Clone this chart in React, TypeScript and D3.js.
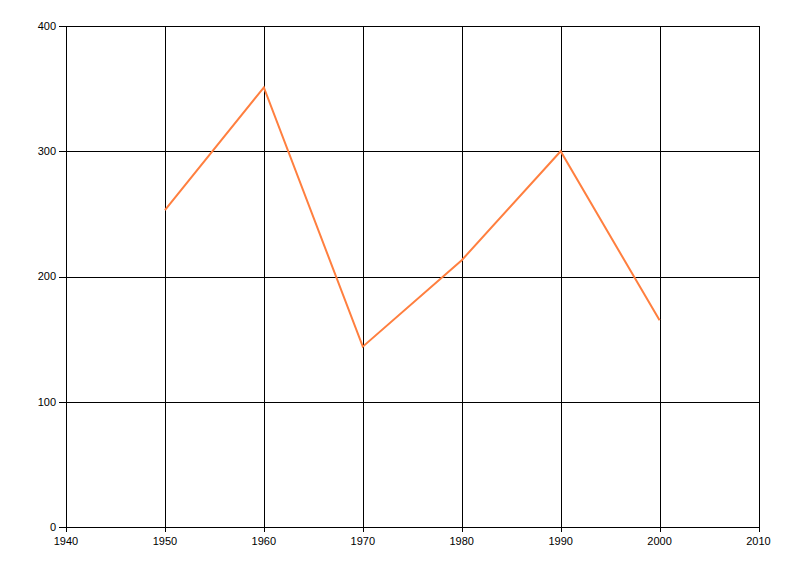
import React from "react";
import * as d3 from "d3";

const years = [1950, 1960, 1970, 1980, 1990, 2000];
const values = [253, 351, 144, 213, 300, 165];
const xTicks = [1940, 1950, 1960, 1970, 1980, 1990, 2000, 2010];
const yTicks = [0, 100, 200, 300, 400];

export default function App() {
  const W = 800, H = 576;
  const left = 66, right = 758.5, top = 26, bottom = 527;
  const x = d3.scaleLinear().domain([1940, 2010]).range([left, right]);
  const y = d3.scaleLinear().domain([0, 400]).range([bottom, top]);
  const line = d3.line<number>().x((_, i) => x(years[i])).y((d) => y(d));
  const font = "'Liberation Sans', Arial, sans-serif";
  return (
    <svg width={W} height={H} style={{ position: "absolute", left: 0, top: 0, background: "#fff" }}>
      <g shapeRendering="crispEdges" stroke="#000" strokeWidth={1}>
        {xTicks.map((t) => (
          <line key={"gx" + t} x1={Math.round(x(t)) + 0.5} x2={Math.round(x(t)) + 0.5} y1={top} y2={bottom + 5} />
        ))}
        {yTicks.map((t) => (
          <line key={"gy" + t} x1={left - 7} x2={right} y1={Math.round(y(t)) + 0.5} y2={Math.round(y(t)) + 0.5} />
        ))}
      </g>
      <path d={line(values) || ""} fill="none" stroke="#FF7F3F" strokeWidth={2} strokeLinejoin="miter" />
      <g fontFamily={font} fontSize={11} fill="#000">
        {yTicks.map((t) => (
          <text key={"ly" + t} x={left - 10} y={y(t)} dy="0.35em" textAnchor="end">{t}</text>
        ))}
        {xTicks.map((t) => (
          <text key={"lx" + t} x={x(t)} y={bottom + 14} dy="0.35em" textAnchor="middle">{t}</text>
        ))}
      </g>
    </svg>
  );
}
